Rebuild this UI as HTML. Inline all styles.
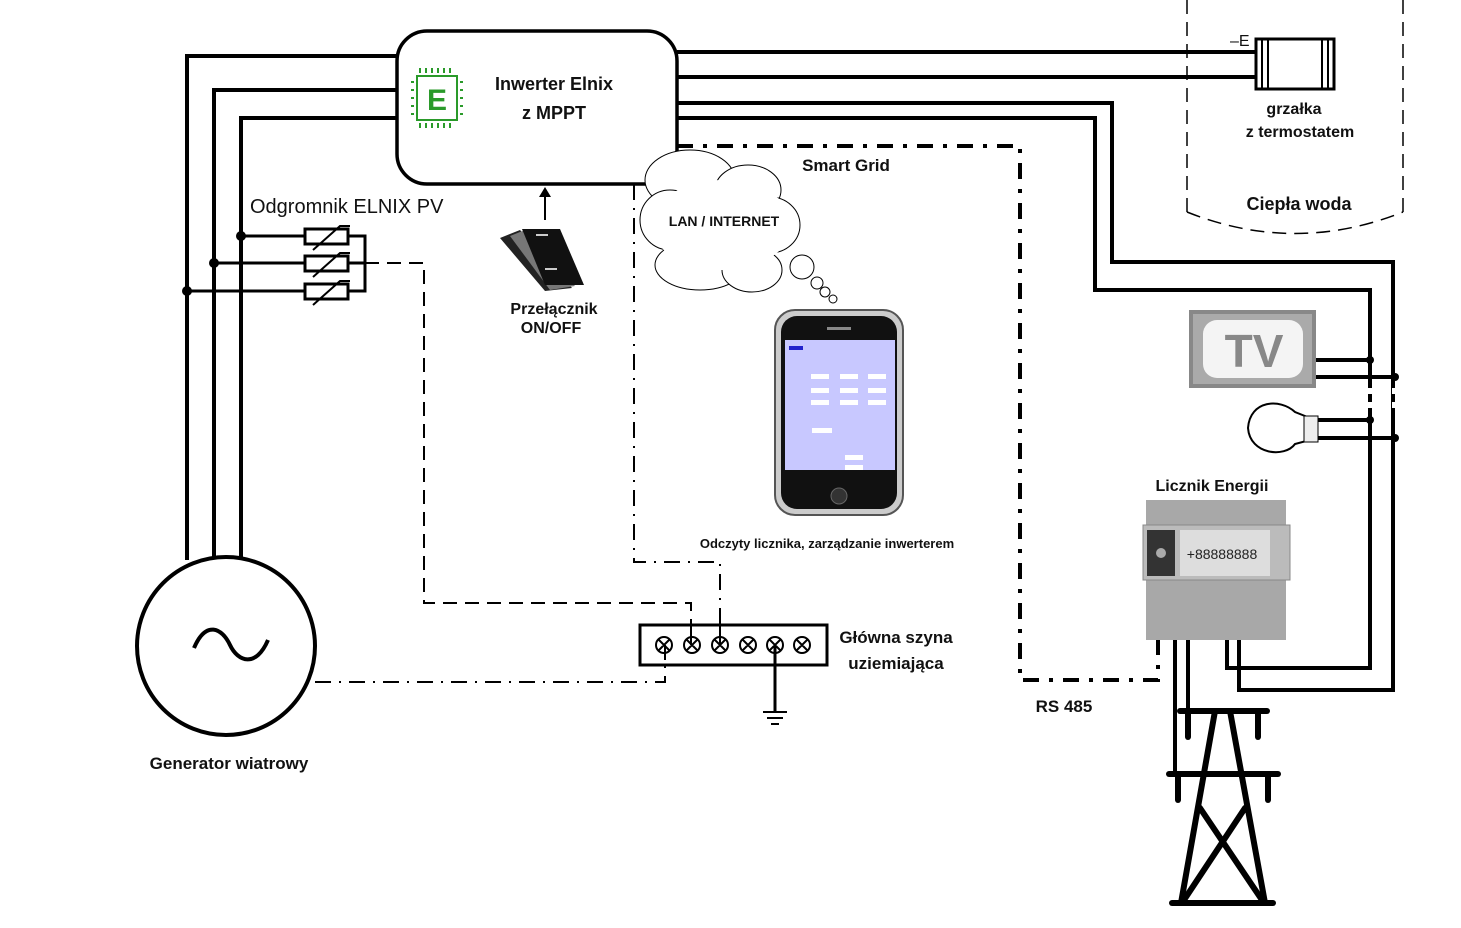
<!DOCTYPE html>
<html><head><meta charset="utf-8"><style>
html,body{margin:0;padding:0;background:#fff}
svg{display:block}
text{font-family:"Liberation Sans",sans-serif;font-weight:bold;fill:#111}
</style></head><body>
<svg width="1461" height="928" viewBox="0 0 1461 928" xmlns="http://www.w3.org/2000/svg">
<rect width="1461" height="928" fill="#fff"/>
<g fill="none" stroke="#000" stroke-width="4">
<!-- left wires -->
<polyline points="397,56 187,56 187,560"/>
<polyline points="397,90 214,90 214,558"/>
<polyline points="397,118 241,118 241,558"/>
<!-- right wires -->
<line x1="677" y1="52" x2="1256" y2="52"/>
<line x1="677" y1="77" x2="1256" y2="77"/>
<polyline points="677,103 1112,103 1112,262 1393,262 1393,690 1239,690 1239,640"/>
<polyline points="677,118 1095,118 1095,290 1370,290 1370,668 1227,668 1227,640"/>
<line x1="1316" y1="360" x2="1370" y2="360"/>
<line x1="1316" y1="377" x2="1395" y2="377"/>
<line x1="1310" y1="420" x2="1370" y2="420"/>
<line x1="1310" y1="438" x2="1395" y2="438"/>
<line x1="1188" y1="640" x2="1188" y2="711"/>
<line x1="1175" y1="640" x2="1175" y2="774"/>
</g>
<!-- white gaps -->
<g stroke="#fff" stroke-width="6">
<line x1="1370" y1="388" x2="1370" y2="394"/><line x1="1370" y1="402" x2="1370" y2="408"/>
<line x1="1395" y1="388" x2="1395" y2="394"/><line x1="1395" y1="402" x2="1395" y2="408"/>
</g>
<g fill="#000">
<circle cx="1370" cy="360" r="4"/><circle cx="1395" cy="377" r="4"/>
<circle cx="1370" cy="420" r="4"/><circle cx="1395" cy="438" r="4"/>
<circle cx="241" cy="236" r="5"/><circle cx="214" cy="263" r="5"/><circle cx="187" cy="291" r="5"/>
</g>
<!-- water tank -->
<g fill="none" stroke="#000" stroke-width="1.5" stroke-dasharray="14,8">
<line x1="1187" y1="0" x2="1187" y2="212"/>
<line x1="1403" y1="0" x2="1403" y2="212"/>
<path d="M1187,212 Q1295,255 1403,212"/>
</g>
<!-- heater -->
<rect x="1256" y="39" width="78" height="50" fill="#fff" stroke="#000" stroke-width="3"/>
<g stroke="#000" stroke-width="2"><line x1="1262" y1="39" x2="1262" y2="89"/><line x1="1268" y1="39" x2="1268" y2="89"/><line x1="1322" y1="39" x2="1322" y2="89"/><line x1="1328" y1="39" x2="1328" y2="89"/></g>
<text x="1230" y="46" font-size="16" style="font-weight:normal">–E</text>
<text x="1294" y="114" font-size="16" text-anchor="middle">grzałka</text>
<text x="1300" y="137" font-size="16" text-anchor="middle">z termostatem</text>
<text x="1299" y="210" font-size="18" text-anchor="middle">Ciepła woda</text>
<!-- smart grid dash-dot -->
<polyline points="677,146 1020,146 1020,680 1158,680 1158,640" fill="none" stroke="#000" stroke-width="4" stroke-dasharray="16,10,4,10"/>
<polyline points="634,184 634,562 720,562 720,625" fill="none" stroke="#000" stroke-width="2" stroke-dasharray="16,8,2,8"/>
<polyline points="365,263 424,263 424,603 691,603 691,625" fill="none" stroke="#000" stroke-width="2" stroke-dasharray="14,8"/>
<polyline points="315,682 665,682 665,650" fill="none" stroke="#000" stroke-width="2" stroke-dasharray="16,8,2,8"/>
<!-- inverter -->
<rect x="397" y="31" width="280" height="153" rx="30" fill="#fff" stroke="#000" stroke-width="3.5"/>
<g stroke="#2a9a2a" fill="none" stroke-width="2">
<rect x="417" y="76" width="40" height="44"/>
<path d="M420,73v-5M426,73v-5M432,73v-5M438,73v-5M444,73v-5M450,73v-5M420,123v5M426,123v5M432,123v5M438,123v5M444,123v5M450,123v5M414,82h-3M414,90h-3M414,98h-3M414,106h-3M414,114h-3M460,82h3M460,90h3M460,98h3M460,106h3M460,114h3"/>
</g>
<text x="437" y="110" font-size="30" fill="#2a9a2a" text-anchor="middle" style="fill:#2a9a2a">E</text>
<text x="554" y="90" font-size="18" text-anchor="middle">Inwerter Elnix</text>
<text x="554" y="119" font-size="18" text-anchor="middle">z MPPT</text>
<!-- surge arrester -->
<g stroke="#000" stroke-width="3" fill="#fff">
<line x1="241" y1="236" x2="305" y2="236"/><line x1="214" y1="263" x2="305" y2="263"/><line x1="187" y1="291" x2="305" y2="291"/>
<rect x="305" y="229" width="43" height="15"/><rect x="305" y="256" width="43" height="15"/><rect x="305" y="284" width="43" height="15"/>
<polyline points="348,236 365,236 365,291 348,291" fill="none"/><line x1="348" y1="263" x2="365" y2="263"/>
</g>
<g stroke="#000" stroke-width="2" fill="none">
<polyline points="313,250 340,226 350,226"/><polyline points="313,277 340,253 350,253"/><polyline points="313,305 340,281 350,281"/>
</g>
<text x="250" y="213" font-size="20" style="font-weight:normal">Odgromnik ELNIX PV</text>
<!-- switch -->
<line x1="545" y1="220" x2="545" y2="194" stroke="#000" stroke-width="2"/>
<polygon points="545,187 539,197 551,197" fill="#000"/>
<polygon points="500,238 520,230 572,288 545,291" fill="#222"/>
<polygon points="510,236 525,230 575,286 550,290" fill="#777"/>
<polygon points="522,229 560,229 584,285 545,285" fill="#111"/>
<rect x="536" y="234" width="12" height="2" fill="#ccc"/><rect x="545" y="268" width="12" height="2" fill="#ccc"/>
<text x="554" y="314" font-size="16" text-anchor="middle">Przełącznik</text>
<text x="551" y="333" font-size="16" text-anchor="middle">ON/OFF</text>
<!-- cloud -->
<g fill="#fff" stroke="#000" stroke-width="1">
<ellipse cx="690" cy="180" rx="45" ry="30"/><ellipse cx="748" cy="190" rx="33" ry="25"/><ellipse cx="770" cy="225" rx="30" ry="28"/>
<ellipse cx="700" cy="265" rx="45" ry="25"/><ellipse cx="752" cy="270" rx="30" ry="22"/><ellipse cx="670" cy="220" rx="30" ry="30"/>
</g>
<ellipse cx="722" cy="225" rx="70" ry="45" fill="#fff"/>
<g fill="#fff" stroke="#000" stroke-width="1"><circle cx="802" cy="267" r="12"/><circle cx="817" cy="283" r="6"/><circle cx="825" cy="292" r="5"/><circle cx="833" cy="299" r="4"/></g>
<text x="724" y="226" font-size="14" text-anchor="middle">LAN / INTERNET</text>
<text x="846" y="171" font-size="17" text-anchor="middle">Smart Grid</text>
<!-- phone -->
<rect x="775" y="310" width="128" height="205" rx="20" fill="#ccc" stroke="#555" stroke-width="2"/>
<rect x="781" y="316" width="116" height="193" rx="16" fill="#111"/>
<rect x="785" y="340" width="110" height="130" fill="#c8c8ff"/>
<rect x="827" y="327" width="24" height="3" fill="#888"/>
<circle cx="839" cy="496" r="8" fill="#333" stroke="#666"/>
<g fill="#fff"><rect x="811" y="374" width="18" height="5"/><rect x="840" y="374" width="18" height="5"/><rect x="868" y="374" width="18" height="5"/><rect x="811" y="388" width="18" height="5"/><rect x="840" y="388" width="18" height="5"/><rect x="868" y="388" width="18" height="5"/><rect x="811" y="400" width="18" height="5"/><rect x="840" y="400" width="18" height="5"/><rect x="868" y="400" width="18" height="5"/><rect x="812" y="428" width="20" height="5"/><rect x="845" y="455" width="18" height="5"/><rect x="845" y="465" width="18" height="5"/></g>
<rect x="789" y="346" width="14" height="4" fill="#22c"/>
<text x="827" y="548" font-size="13" text-anchor="middle">Odczyty licznika, zarządzanie inwerterem</text>
<!-- ground bus -->
<rect x="640" y="625" width="187" height="40" fill="#fff" stroke="#000" stroke-width="3"/>
<g stroke="#000" stroke-width="2" fill="none">
<circle cx="664" cy="645" r="8"/><circle cx="692" cy="645" r="8"/><circle cx="720" cy="645" r="8"/><circle cx="748" cy="645" r="8"/><circle cx="775" cy="645" r="8"/><circle cx="802" cy="645" r="8"/>
<path d="M658,639l12,12M670,639l-12,12M686,639l12,12M698,639l-12,12M714,639l12,12M726,639l-12,12M742,639l12,12M754,639l-12,12M769,639l12,12M781,639l-12,12M796,639l12,12M808,639l-12,12"/>
<line x1="691" y1="625" x2="691" y2="645"/><line x1="720" y1="625" x2="720" y2="645"/><line x1="665" y1="645" x2="665" y2="660"/>
</g>
<line x1="775" y1="645" x2="775" y2="712" stroke="#000" stroke-width="3"/>
<g stroke="#000" stroke-width="2"><line x1="763" y1="712" x2="787" y2="712"/><line x1="767" y1="718" x2="783" y2="718"/><line x1="771" y1="724" x2="779" y2="724"/></g>
<text x="896" y="643" font-size="17" text-anchor="middle">Główna szyna</text>
<text x="896" y="669" font-size="17" text-anchor="middle">uziemiająca</text>
<!-- generator -->
<circle cx="226" cy="646" r="89" fill="#fff" stroke="#000" stroke-width="4"/>
<path d="M194,648 C206,620 222,628 230,645 C238,662 256,668 268,640" fill="none" stroke="#000" stroke-width="4"/>
<text x="229" y="769" font-size="17" text-anchor="middle">Generator wiatrowy</text>
<!-- TV -->
<rect x="1189" y="310" width="127" height="78" fill="#888"/>
<rect x="1193" y="314" width="119" height="70" fill="#aaa"/>
<rect x="1203" y="320" width="100" height="58" rx="14" fill="#f4f4f4"/>
<text x="1254" y="367" font-size="46" text-anchor="middle" style="fill:#888">TV</text>
<!-- bulb -->
<path d="M1310,418 L1295,412 C1280,398 1250,400 1248,428 C1250,455 1285,458 1295,444 L1310,440 Z" fill="#fff" stroke="#000" stroke-width="2"/>
<rect x="1304" y="416" width="14" height="26" fill="#eee" stroke="#000" stroke-width="1"/>
<!-- meter -->
<text x="1212" y="491" font-size="16" text-anchor="middle">Licznik Energii</text>
<rect x="1146" y="500" width="140" height="140" fill="#a8a8a8"/>
<rect x="1143" y="525" width="147" height="55" fill="#bbb" stroke="#888"/>
<rect x="1147" y="530" width="28" height="46" fill="#333"/>
<circle cx="1161" cy="553" r="5" fill="#aaa"/>
<rect x="1180" y="530" width="90" height="46" fill="#ddd"/>
<text x="1222" y="559" font-size="14" style="font-weight:normal;fill:#222" text-anchor="middle">+88888888</text>
<!-- RS485 -->
<text x="1064" y="712" font-size="17" text-anchor="middle">RS 485</text>
<!-- tower -->
<g stroke="#000" stroke-width="6" stroke-linecap="round" fill="none">
<line x1="1180" y1="711" x2="1267" y2="711"/><line x1="1169" y1="774" x2="1278" y2="774"/><line x1="1172" y1="903" x2="1273" y2="903"/>
<line x1="1215" y1="711" x2="1181" y2="903"/><line x1="1230" y1="711" x2="1265" y2="903"/>
<line x1="1200" y1="808" x2="1262" y2="900"/><line x1="1245" y1="808" x2="1184" y2="900"/>
<line x1="1188" y1="711" x2="1188" y2="737"/><line x1="1258" y1="711" x2="1258" y2="737"/>
<line x1="1178" y1="774" x2="1178" y2="800"/><line x1="1268" y1="774" x2="1268" y2="800"/>
</g>
</svg>
</body></html>
